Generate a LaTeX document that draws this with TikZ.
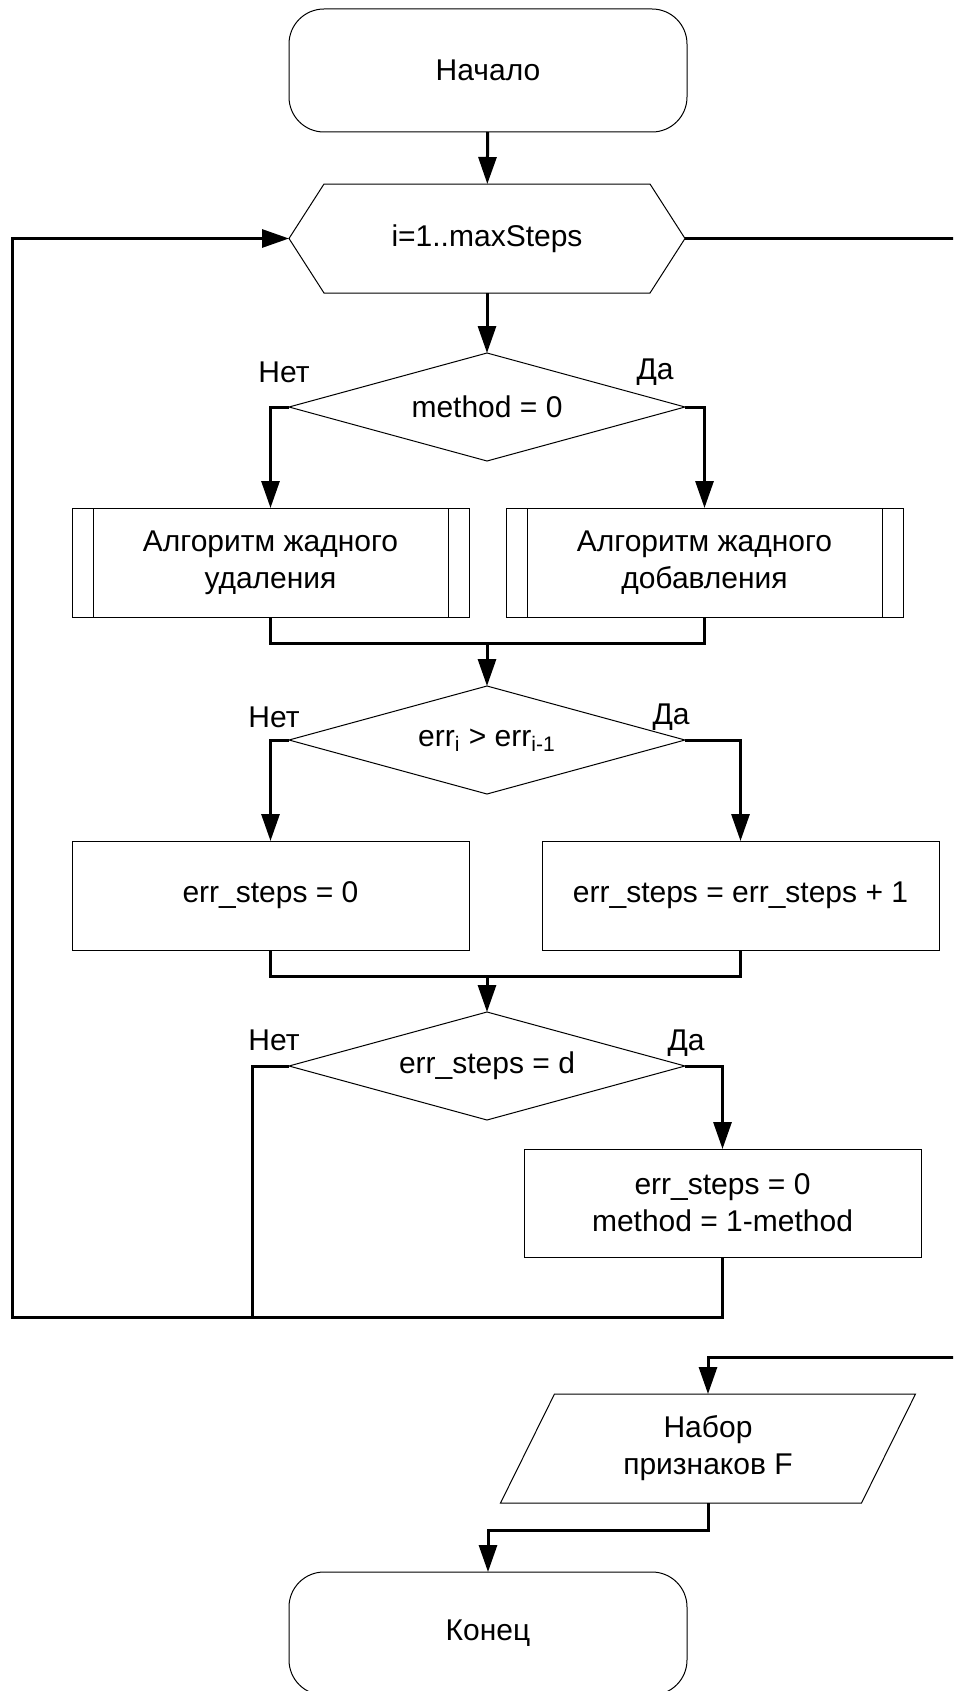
\documentclass[tikz,border=0pt]{standalone}
\usepackage{fontspec}
\setmainfont{Liberation Sans}
\usetikzlibrary{arrows.meta,shapes.geometric}

\begin{document}
\begin{tikzpicture}[x=0.5pt,y=-0.5pt,
  every node/.style={font=\fontsize{15}{18.5}\selectfont, inner sep=0pt, outer sep=0pt, align=center},
  shapeline/.style={draw=black, line width=0.5pt},
  flow/.style={line width=1.5pt},
  arrowflow/.style={flow, -{Triangle[length=13.5pt,width=9pt]}},
  terminal/.style={shapeline, rectangle, rounded corners=17.5pt, minimum width=199pt, minimum height=61.5pt},
  decision/.style={shapeline, diamond, aspect=3.67, minimum width=198pt, minimum height=54pt},
  procbox/.style={shapeline, rectangle, minimum width=198.5pt, minimum height=54.5pt},
  subproc/.style={procbox, path picture={
      \draw[line width=0.5pt]
        ([xshift=10.5pt]path picture bounding box.north west) -- ([xshift=10.5pt]path picture bounding box.south west)
        ([xshift=-10.5pt]path picture bounding box.north east) -- ([xshift=-10.5pt]path picture bounding box.south east);}},
  frame/.style={rectangle, minimum width=#1, minimum height=54.5pt},
  answer/.style={}
]
\clip (0,0) rectangle (953,1691);

% blocks
\node[terminal] (start) at (488,70.5) {Начало};
\node[frame=198pt] (loop) at (487,238.5) {i=1..maxSteps};
\draw[shapeline] (loop.west) -- ([xshift=17.5pt]loop.north west) -- ([xshift=-17.5pt]loop.north east)
  -- (loop.east) -- ([xshift=-17.5pt]loop.south east) -- ([xshift=17.5pt]loop.south west) -- cycle;

\node[decision] (d1) at (487,407) {method = 0};
\node[subproc] (del) at (270.5,562.5) {Алгоритм жадного\\удаления};
\node[subproc] (add) at (704.5,562.5) {Алгоритм жадного\\добавления};

\node[decision] (d2) at (487,740) {err\textsubscript{i} > err\textsubscript{i-1}};
\node[procbox] (reset) at (270.5,895.5) {err\_steps = 0};
\node[procbox] (inc) at (740.5,895.5) {err\_steps = err\_steps + 1};

\node[decision] (d3) at (487,1066) {err\_steps = d};
\node[procbox, minimum height=54pt] (swap) at (722.5,1203) {err\_steps = 0\\method = 1-method};

\node[frame=180.5pt] (out) at (708,1448.5) {Набор\\признаков F};
\draw[shapeline] ([xshift=13.5pt]out.north west) -- ([xshift=13.5pt]out.north east)
  -- ([xshift=-13.5pt]out.south east) -- ([xshift=-13.5pt]out.south west) -- cycle;

\node[terminal] (stop) at (488,1633.5) {Конец};

% branch labels
\node[answer] (n1) at (284,372) {Нет};
\node[answer] (y1) at (655,372) {Да};
\node[answer] (n2) at (274,717) {Нет};
\node[answer] (y2) at (671,717) {Да};
\node[answer] (n3) at (274,1040) {Нет};
\node[answer] (y3) at (686,1043) {Да};

% junction points
\coordinate (m1) at (487,643);
\coordinate (m2) at (487,976);
\coordinate (back) at (12,1317);
\coordinate (join) at (252,1317);
\coordinate (exit) at (965,1357);
\coordinate (fin) at (488,1530);

% connectors
\draw[arrowflow] (start) -- (loop);
\draw[arrowflow] (loop.south) -- (d1.north);
\draw[arrowflow] (d1.west) -| (del.north);
\draw[arrowflow] (d1.east) -| (add.north);
\draw[flow] (del.south) |- (m1) -| (add.south);
\draw[arrowflow] (m1) -- (d2.north);
\draw[arrowflow] (d2.west) -| (reset.north);
\draw[arrowflow] (d2.east) -| (inc.north);
\draw[flow] (reset.south) |- (m2) -| (inc.south);
\draw[arrowflow] (m2) -- (d3.north);
\draw[arrowflow] (d3.east) -| (swap.north);
\draw[flow] (d3.west) -| (join);
\draw[arrowflow] (swap.south) |- (back) |- (loop.west);
\draw[arrowflow] (loop.east) -| (exit) -| (out.north);
\draw[arrowflow] (out.south) |- (fin) -- (stop.north);
\end{tikzpicture}
\end{document}
